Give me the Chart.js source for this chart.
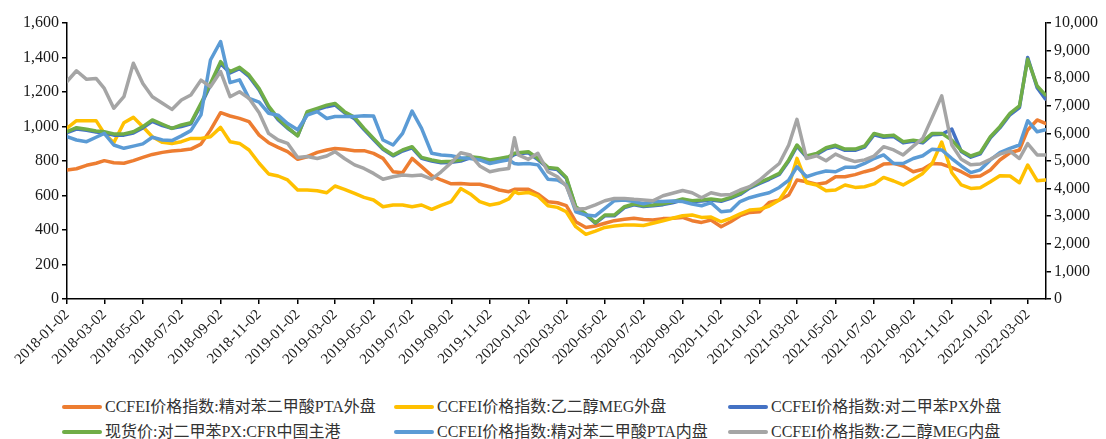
<!DOCTYPE html>
<html><head><meta charset="utf-8">
<script src="https://cdn.jsdelivr.net/npm/chart.js@4.4.1/dist/chart.umd.min.js"></script>
<style>
html,body{margin:0;padding:0;background:#fff;}
#wrap{position:relative;width:1106px;height:439px;overflow:hidden;background:#fff;}
#c{position:absolute;left:0;top:0;}
.lt{position:absolute;font-family:'Liberation Serif','Noto Sans CJK SC',serif;font-size:16px;color:#333;white-space:nowrap;line-height:20px;}
.sw{position:absolute;height:4px;border-radius:2px;width:40px;}
</style></head>
<body><div id="wrap"><canvas id="c" width="1106" height="395" style="width:1106px;height:395px"></canvas><div id="legend"></div></div>
<script>
const dates = [
'2018-01-02','2018-01-17','2018-02-02','2018-02-17','2018-03-02','2018-03-17','2018-04-02','2018-04-17','2018-05-02','2018-05-17','2018-06-02','2018-06-17',
'2018-07-02','2018-07-17','2018-08-02','2018-08-17','2018-09-02','2018-09-17','2018-10-02','2018-10-17','2018-11-02','2018-11-17','2018-12-02','2018-12-17',
'2019-01-02','2019-01-17','2019-02-02','2019-02-17','2019-03-02','2019-03-17','2019-04-02','2019-04-17','2019-05-02','2019-05-17','2019-06-02','2019-06-17',
'2019-07-02','2019-07-17','2019-08-02','2019-08-17','2019-09-02','2019-09-17','2019-10-02','2019-10-17','2019-11-02','2019-11-17','2019-12-02','2019-12-11','2019-12-17',
'2020-01-02','2020-01-17','2020-02-02','2020-02-17','2020-03-02','2020-03-17','2020-04-02','2020-04-17','2020-05-02','2020-05-17','2020-06-02','2020-06-17',
'2020-07-02','2020-07-17','2020-08-02','2020-08-17','2020-09-02','2020-09-17','2020-10-02','2020-10-17','2020-11-02','2020-11-17','2020-12-02','2020-12-17',
'2021-01-02','2021-01-17','2021-02-02','2021-02-17','2021-03-02','2021-03-17','2021-04-02','2021-04-17','2021-05-02','2021-05-17','2021-06-02','2021-06-17',
'2021-07-02','2021-07-17','2021-08-02','2021-08-17','2021-09-02','2021-09-17','2021-10-02','2021-10-17','2021-11-02','2021-11-17','2021-12-02','2021-12-17',
'2022-01-02','2022-01-17','2022-02-02','2022-02-17','2022-03-02','2022-03-17','2022-03-30'
];

// Left axis (USD/t)
const ptaOuter = [
748,755,775,787,802,790,787,802,821,838,850,858,862,869,898,979,1080,1061,1047,1028,950,906,879,854,
810,825,850,864,873,868,860,860,844,815,738,732,815,767,715,690,668,670,665,665,651,632,622,636,636,
636,609,564,558,541,448,415,423,439,454,462,468,461,458,466,468,473,454,444,458,419,448,483,502,
506,560,574,603,690,680,665,674,709,709,721,738,752,782,786,771,738,752,786,782,761,738,709,713,
748,806,848,864,980,1038,1018];
const megOuter = [
990,1034,1034,1034,960,906,1022,1053,999,941,908,902,912,931,931,941,995,912,902,864,787,725,713,690,
632,632,628,616,655,636,612,589,574,535,545,545,535,545,520,543,565,640,609,564,545,555,580,622,612,
618,597,541,531,506,419,375,394,415,423,429,429,426,439,454,468,483,487,473,475,448,468,493,516,
520,539,574,655,815,674,661,628,632,661,647,651,667,705,684,661,694,728,786,910,732,661,641,645,
680,715,713,674,777,686,690];
const pxOuter = [
965,985,978,968,962,950,950,962,992,1030,1005,990,1000,1015,1125,1240,1365,1310,1335,1290,1212,1110,1040,990,
948,1078,1098,1115,1125,1080,1045,982,925,868,830,858,876,815,800,790,792,800,818,812,800,808,818,838,842,
848,808,758,750,700,530,488,440,482,482,530,546,536,540,547,558,574,565,568,574,566,583,606,643,
670,694,722,800,886,823,838,870,884,862,862,880,952,938,942,905,914,905,952,955,985,855,822,842,
935,992,1068,1110,1400,1225,1160];
const pxCfr = [
970,993,984,974,970,957,957,970,999,1038,1013,989,1009,1022,1134,1250,1376,1318,1343,1299,1220,1119,1047,995,
945,1086,1105,1124,1134,1086,1053,989,931,873,835,864,883,821,806,796,798,806,825,819,806,815,825,845,848,
854,815,763,757,705,535,493,442,487,487,535,551,540,545,552,564,580,570,574,580,572,589,612,649,
676,700,728,806,893,829,844,877,891,869,869,887,960,945,950,912,921,912,960,960,921,860,829,848,
941,999,1076,1119,1390,1235,1183];
// Right axis (RMB/t)
const ptaInner = [
5880,5760,5700,5860,6000,5580,5460,5540,5620,5860,5760,5740,5910,6100,6670,8660,9330,7840,7940,7270,7130,6730,6660,6360,
6130,6660,6790,6540,6610,6610,6610,6640,6630,5760,5580,6000,6810,6180,5280,5220,5190,5120,5090,5040,4910,4980,5040,4910,4890,
4910,4860,4340,4310,4130,3160,3040,3010,3280,3560,3590,3530,3450,3530,3530,3550,3530,3440,3380,3490,3160,3200,3530,3670,
3770,3850,4040,4310,4790,4430,4550,4640,4610,4770,4770,4910,5090,5220,4910,4910,5090,5190,5430,5400,5090,4820,4580,4680,
5040,5300,5460,5580,6460,6060,6130];
const megInner = [
7880,8270,7960,7990,7630,6910,7330,8540,7810,7330,7090,6870,7210,7390,7930,7690,8240,7330,7510,7270,6750,6000,5760,5640,
5130,5160,5090,5180,5340,5090,4860,4730,4550,4340,4430,4490,4470,4490,4340,4610,4940,5300,5220,4820,4610,4680,4730,5840,5220,
5060,5280,4610,4430,4090,3250,3280,3410,3560,3640,3640,3610,3590,3560,3740,3830,3930,3850,3670,3850,3770,3790,3950,4070,
4310,4610,4910,5580,6510,5090,5190,5010,5250,5090,4980,5040,5180,5520,5400,5220,5540,5820,6580,7360,5580,5060,4860,4890,
5060,5250,5360,5090,5630,5220,5220];

const tickLabels = ['2018-01-02','2018-03-02','2018-05-02','2018-07-02','2018-09-02','2018-11-02',
'2019-01-02','2019-03-02','2019-05-02','2019-07-02','2019-09-02','2019-11-02',
'2020-01-02','2020-03-02','2020-05-02','2020-07-02','2020-09-02','2020-11-02',
'2021-01-02','2021-03-02','2021-05-02','2021-07-02','2021-09-02','2021-11-02',
'2022-01-02','2022-03-02'];
const axisStart = '2018-01-02';
const axisEnd = '2022-03-31';

const seriesNames = ['CCFEI价格指数:精对苯二甲酸PTA外盘','CCFEI价格指数:乙二醇MEG外盘','CCFEI价格指数:对二甲苯PX外盘',
'现货价:对二甲苯PX:CFR中国主港','CCFEI价格指数:精对苯二甲酸PTA内盘','CCFEI价格指数:乙二醇MEG内盘'];
const seriesColors = ['#ED7D31','#FFC000','#4472C4','#70AD47','#5B9BD5','#A5A5A5'];
const seriesValues = [ptaOuter, megOuter, pxOuter, pxCfr, ptaInner, megInner];
const seriesAxis = ['y','y','y','y','y1','y1'];

const dayNum = s => { const [a,b,c] = s.split('-').map(Number); return (Date.UTC(a,b-1,c) - Date.UTC(2018,0,2)) / 86400000; };
const tickMap = {};
tickLabels.forEach(t => { tickMap[dayNum(t)] = t; });

const FONT = "'Liberation Serif','Times New Roman',serif";
const TXT = '#1a1a1a';

const datasets = seriesValues.map((vals, i) => ({
  label: seriesNames[i],
  data: dates.map((d, j) => ({x: dayNum(d), y: vals[j]})),
  borderColor: seriesColors[i],
  backgroundColor: seriesColors[i],
  borderWidth: 3.5,
  pointRadius: 0,
  tension: 0,
  fill: false,
  yAxisID: seriesAxis[i],
  order: 6 - i,
  borderJoinStyle: 'round',
  borderCapStyle: 'round'
}));

const axisGrid = {display: true, drawOnChartArea: false, drawTicks: true, tickLength: 5, color: '#000', lineWidth: 1.5};

new Chart(document.getElementById('c'), {
  type: 'line',
  data: {datasets},
  options: {
    responsive: false,
    animation: false,
    devicePixelRatio: 1,
    layout: {padding: {top: 23, left: 0, right: 0, bottom: 0}},
    plugins: {legend: {display: false}, tooltip: {enabled: false}},
    scales: {
      x: {
        type: 'linear',
        min: dayNum(axisStart),
        max: dayNum(axisEnd),
        afterBuildTicks: s => { s.ticks = tickLabels.map(t => ({value: dayNum(t)})); },
        afterFit: s => { s.height = 96; },
        grid: axisGrid,
        border: {display: true, color: '#000', width: 1.5},
        ticks: {
          autoSkip: false, maxRotation: 45, minRotation: 45, padding: 2,
          color: TXT, font: {family: FONT, size: 15},
          callback: v => tickMap[v] || ''
        }
      },
      y: {
        position: 'left', min: 0, max: 1600,
        afterFit: s => { s.width = 67; },
        grid: axisGrid,
        border: {display: true, color: '#000', width: 1.5},
        ticks: {stepSize: 200, padding: 3, color: TXT, font: {family: FONT, size: 16},
          callback: v => v.toLocaleString('en-US')}
      },
      y1: {
        position: 'right', min: 0, max: 10000,
        afterFit: s => { s.width = 60; },
        grid: axisGrid,
        border: {display: true, color: '#000', width: 1.5},
        ticks: {stepSize: 1000, padding: 3, color: TXT, font: {family: FONT, size: 16},
          callback: v => v.toLocaleString('en-US')}
      }
    }
  }
});

// Legend (two rows, three aligned columns)
const legendCols = [62, 394, 728];
const legendRows = [407, 432];
const lg = document.getElementById('legend');
seriesNames.forEach((name, i) => {
  const col = legendCols[i % 3], row = legendRows[Math.floor(i / 3)];
  const sw = document.createElement('div');
  sw.className = 'sw'; sw.style.left = col + 'px'; sw.style.top = (row - 2) + 'px'; sw.style.background = seriesColors[i];
  const tx = document.createElement('div');
  tx.className = 'lt'; tx.style.left = (col + 43) + 'px'; tx.style.top = (row - 10) + 'px'; tx.textContent = name;
  lg.appendChild(sw); lg.appendChild(tx);
});
</script>
</body></html>
